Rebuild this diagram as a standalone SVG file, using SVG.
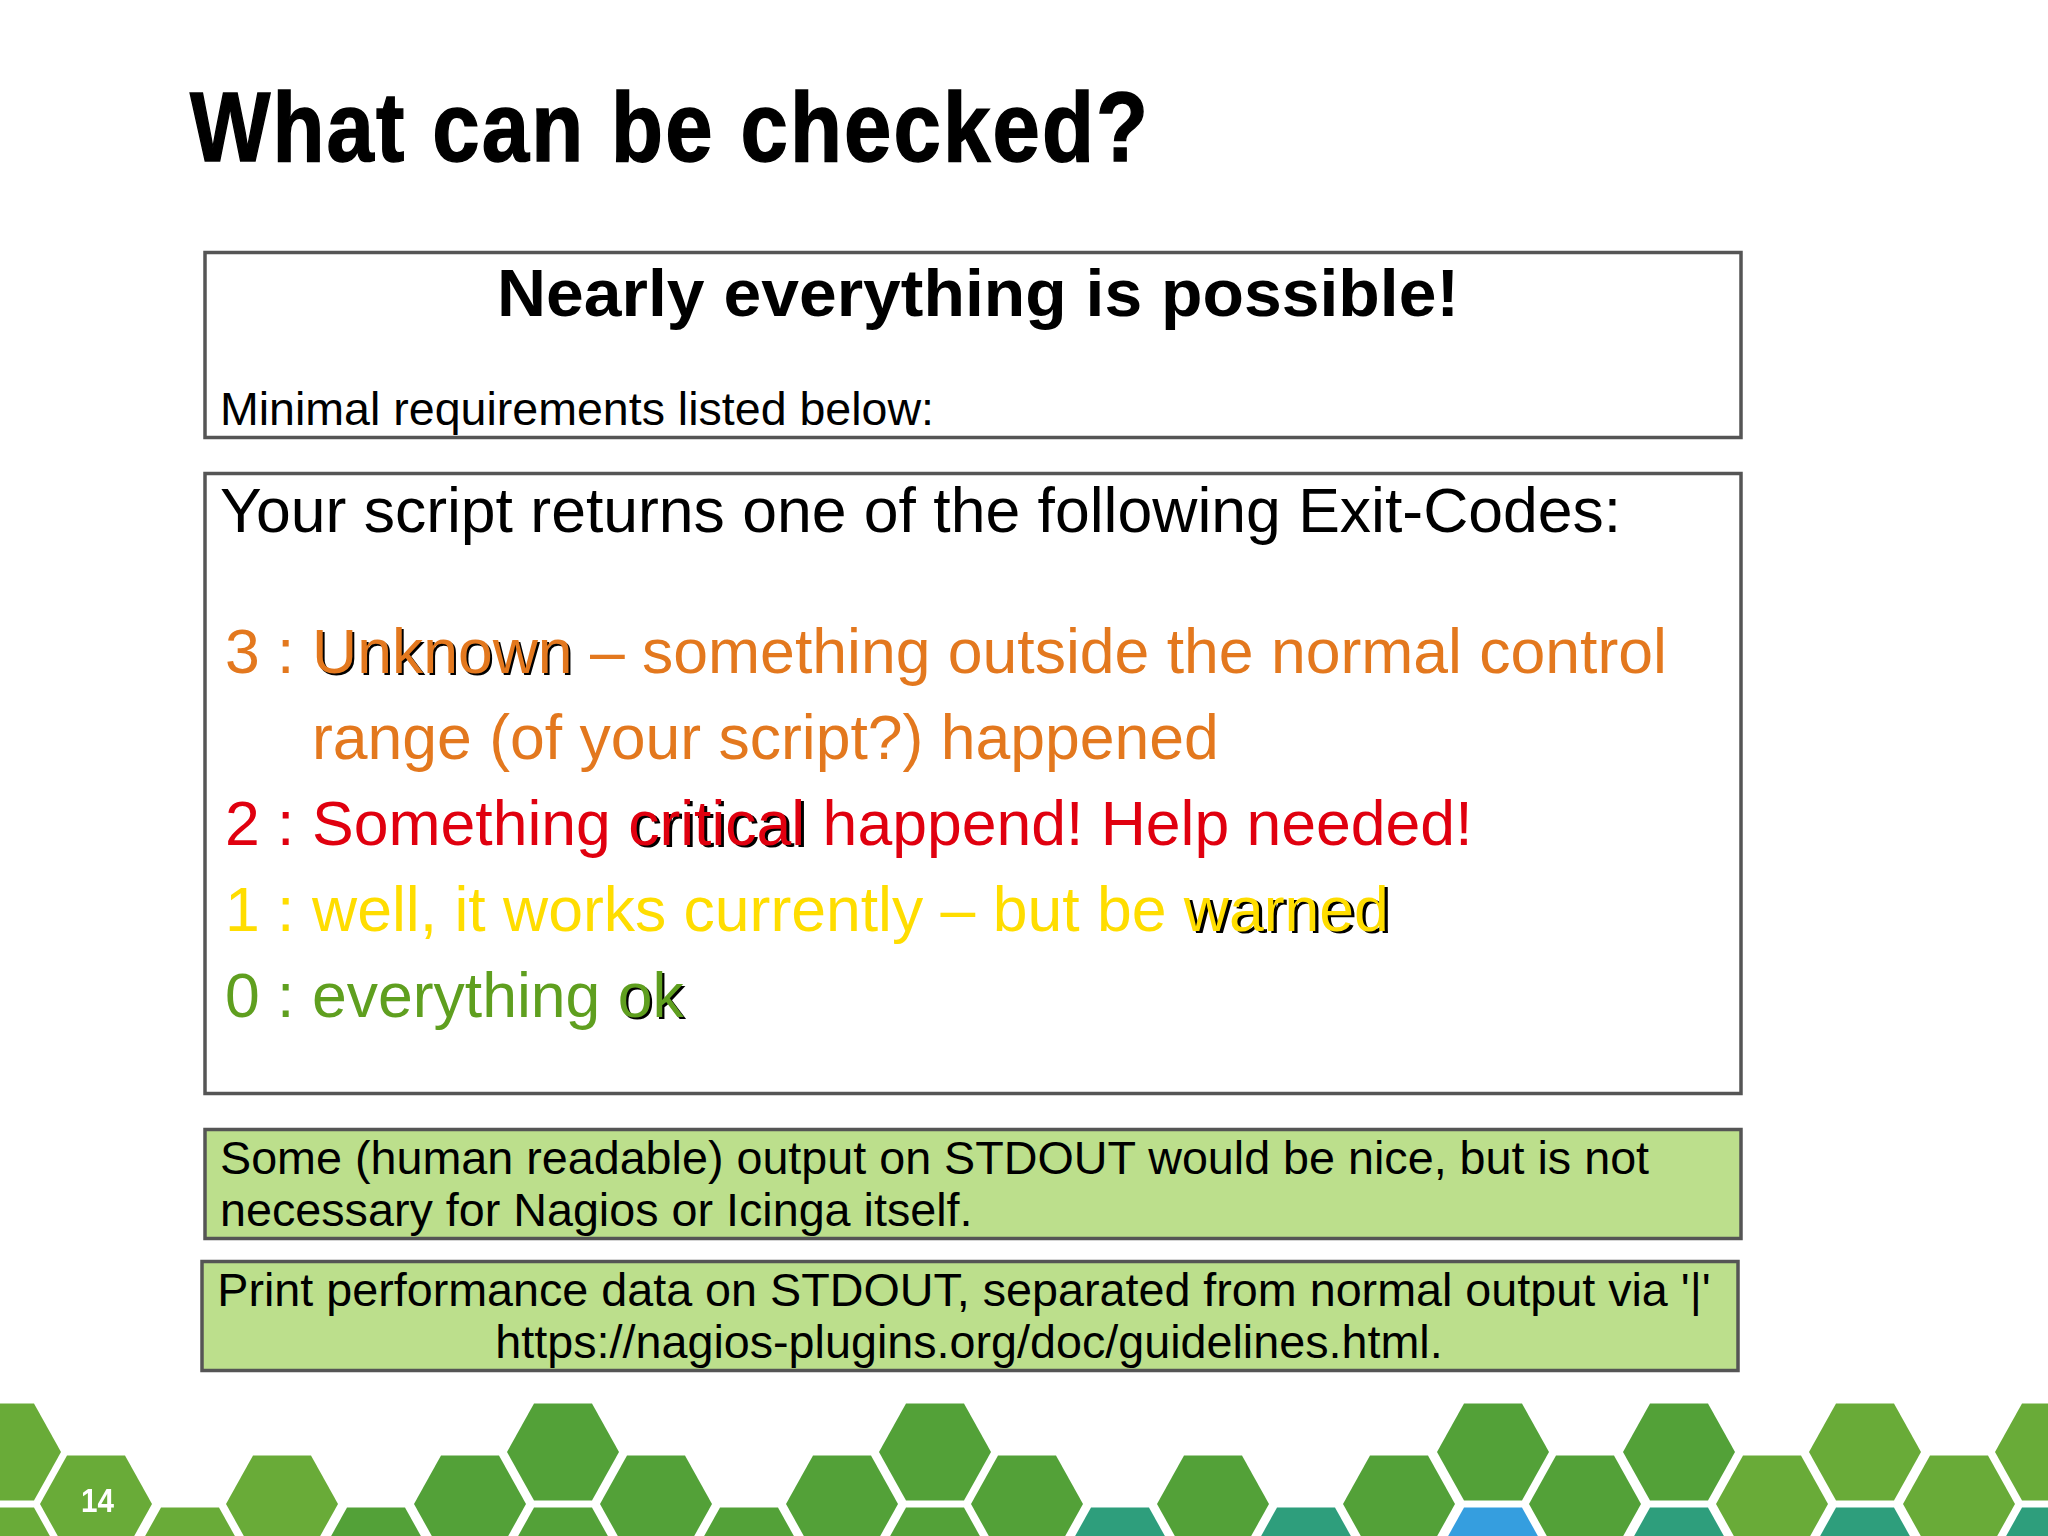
<svg xmlns="http://www.w3.org/2000/svg" width="2048" height="1536" viewBox="0 0 2048 1536">
<style>
text{font-family:"Liberation Sans",Arial,sans-serif;fill:#000}
.box{fill:#fff;stroke:#555;stroke-width:3.5}
.gbox{fill:#bcdf8c;stroke:#555;stroke-width:3.5}
.s46{font-size:46.700px}
.s60{font-size:62.500px}
.o{fill:#e3781e}.r{fill:#e0000f}.y{fill:#ffdd00}.g{fill:#5f9f1f}
.l{fill:#69ab38}.m{fill:#52a138}.t{fill:#2e9e7c}.b{fill:#369edf}
</style>
<defs>
<polygon id="hex" points="-29,-48.500 29,-48.500 56,0 29,48.500 -29,48.500 -56,0"/>
<filter id="soft" x="-2%" y="-5%" width="104%" height="110%"><feGaussianBlur stdDeviation="0.7"/></filter>
</defs>
<rect width="2048" height="1536" fill="#fff"/>
<g id="hexagons" filter="url(#soft)">
<use href="#hex" x="5" y="1452" class="l"/>
<use href="#hex" x="563" y="1452" class="m"/>
<use href="#hex" x="935" y="1452" class="m"/>
<use href="#hex" x="1493" y="1452" class="m"/>
<use href="#hex" x="1679" y="1452" class="m"/>
<use href="#hex" x="1865" y="1452" class="l"/>
<use href="#hex" x="2051" y="1452" class="l"/>
<use href="#hex" x="96" y="1504" class="l"/>
<use href="#hex" x="282" y="1504" class="l"/>
<use href="#hex" x="470" y="1504" class="m"/>
<use href="#hex" x="656" y="1504" class="m"/>
<use href="#hex" x="842" y="1504" class="m"/>
<use href="#hex" x="1027" y="1504" class="m"/>
<use href="#hex" x="1213" y="1504" class="m"/>
<use href="#hex" x="1399" y="1504" class="m"/>
<use href="#hex" x="1585" y="1504" class="m"/>
<use href="#hex" x="1772" y="1504" class="l"/>
<use href="#hex" x="1959" y="1504" class="l"/>
<use href="#hex" x="5" y="1556" class="l"/>
<use href="#hex" x="190" y="1556" class="l"/>
<use href="#hex" x="376" y="1556" class="m"/>
<use href="#hex" x="563" y="1556" class="m"/>
<use href="#hex" x="749" y="1556" class="m"/>
<use href="#hex" x="935" y="1556" class="m"/>
<use href="#hex" x="1120" y="1556" class="t"/>
<use href="#hex" x="1306" y="1556" class="t"/>
<use href="#hex" x="1493" y="1556" class="b"/>
<use href="#hex" x="1679" y="1556" class="t"/>
<use href="#hex" x="1865" y="1556" class="t"/>
<use href="#hex" x="2051" y="1556" class="t"/>
</g>
<text id="page" x="81" y="1512" font-size="33" font-weight="700" style="fill:#fff" textLength="33" lengthAdjust="spacingAndGlyphs">14</text>
<text id="title" transform="translate(190 161) scale(0.86 1)" font-size="99" font-weight="700" stroke="#000" stroke-width="1.500" textLength="1114" lengthAdjust="spacing">What can be checked?</text>
<g id="box1">
<rect class="box" x="205" y="252.500" width="1536" height="185"/>
<text x="497" y="316" font-size="66" font-weight="700" textLength="962" lengthAdjust="spacingAndGlyphs">Nearly everything is possible!</text>
<text class="s46" x="220" y="425" textLength="714" lengthAdjust="spacingAndGlyphs">Minimal requirements listed below:</text>
</g>
<g id="box2">
<rect class="box" x="205" y="473.500" width="1536" height="620"/>
<text class="s60" x="220" y="532">Your script returns one of the following Exit-Codes:</text>
<text class="s60 o" x="225" y="673">3 :</text>
<text class="s60" x="314" y="675">Unknown</text>
<text class="s60 o" x="312" y="673">Unknown – something outside the normal control</text>
<text class="s60 o" x="312" y="759">range (of your script?) happened</text>
<text class="s60 r" x="225" y="845">2 :</text>
<text class="s60" x="631" y="847">critical</text>
<text class="s60 r" x="312" y="845">Something critical happend! Help needed!</text>
<text class="s60 y" x="225" y="931">1 :</text>
<text class="s60" x="1187" y="933">warned</text>
<text class="s60 y" x="312" y="931">well, it works currently – but be warned</text>
<text class="s60 g" x="225" y="1017">0 :</text>
<text class="s60" x="620" y="1019">ok</text>
<text class="s60 g" x="312" y="1017">everything ok</text>
</g>
<g id="box3">
<rect class="gbox" x="205" y="1129.500" width="1536" height="109"/>
<text class="s46" x="220" y="1174">Some (human readable) output on STDOUT would be nice, but is not</text>
<text class="s46" x="220" y="1226">necessary for Nagios or Icinga itself.</text>
</g>
<g id="box4">
<rect class="gbox" x="202" y="1261.500" width="1536" height="109"/>
<text class="s46" x="964" y="1306" text-anchor="middle">Print performance data on STDOUT, separated from normal output via '|'</text>
<text class="s46" x="969" y="1358" text-anchor="middle">https://nagios-plugins.org/doc/guidelines.html.</text>
</g>
</svg>
